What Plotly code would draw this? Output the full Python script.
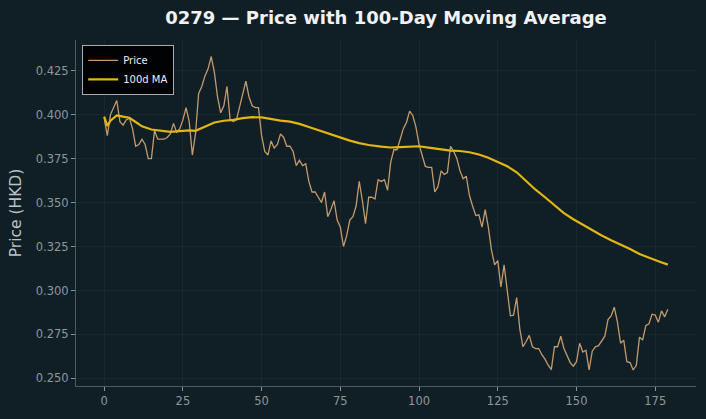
import plotly.graph_objects as go

days = list(range(180))
price = [
    0.398, 0.388, 0.400, 0.404, 0.408, 0.396, 0.394, 0.397, 0.398, 0.392,
    0.382, 0.383, 0.386, 0.383, 0.375, 0.375, 0.391, 0.386, 0.386, 0.386,
    0.387, 0.389, 0.395, 0.390, 0.392, 0.397, 0.404, 0.396, 0.377, 0.389,
    0.412, 0.416, 0.422, 0.426, 0.433, 0.424, 0.410, 0.401, 0.405, 0.416,
    0.397, 0.396, 0.397, 0.404, 0.412, 0.419, 0.410, 0.405, 0.404, 0.404,
    0.388, 0.379, 0.377, 0.385, 0.381, 0.383, 0.389, 0.387, 0.382, 0.382,
    0.379, 0.371, 0.374, 0.371, 0.372, 0.362, 0.356, 0.356, 0.353, 0.350,
    0.356, 0.342, 0.346, 0.351, 0.340, 0.336, 0.325, 0.331, 0.340, 0.342,
    0.348, 0.362, 0.351, 0.338, 0.353, 0.353, 0.352, 0.363, 0.362, 0.363,
    0.357, 0.373, 0.380, 0.380, 0.386, 0.392, 0.3955, 0.402, 0.3995, 0.393,
    0.383, 0.377, 0.3705, 0.370, 0.370, 0.356, 0.359, 0.368, 0.366, 0.367,
    0.382, 0.379, 0.375, 0.368, 0.3635, 0.365, 0.354, 0.348, 0.3426, 0.343,
    0.336, 0.346, 0.336, 0.323, 0.3146, 0.317, 0.302, 0.3146, 0.301, 0.2856,
    0.286, 0.296, 0.278, 0.268, 0.271, 0.2745, 0.268, 0.267, 0.267, 0.2635,
    0.261, 0.2575, 0.255, 0.268, 0.268, 0.274, 0.267, 0.263, 0.259, 0.257,
    0.2595, 0.270, 0.265, 0.266, 0.2548, 0.2655, 0.268, 0.2686, 0.271, 0.274,
    0.2835, 0.2855, 0.2905, 0.282, 0.270, 0.2718, 0.2595, 0.259, 0.2548, 0.2575,
    0.2735, 0.2718, 0.280, 0.281, 0.2865, 0.286, 0.282, 0.2884, 0.285, 0.2894,
]

ma_days = [0, 1, 2, 4, 6, 8, 10, 12, 15, 18, 21, 24, 27, 29, 32, 35, 38, 41, 44, 47,
           50, 53, 56, 59, 62, 65, 68, 71, 75, 78, 81, 84, 88, 91, 94, 97, 100, 103,
           107, 110, 113, 116, 119, 122, 125, 128, 131, 134, 137, 140, 143, 146, 149,
           152, 155, 158, 161, 164, 167, 170, 173, 176, 179]
ma_100 = [0.3988, 0.3936, 0.3965, 0.3995, 0.3988, 0.3982, 0.3958, 0.3933, 0.3915, 0.3907,
          0.3902, 0.3906, 0.3910, 0.3908, 0.3932, 0.3955, 0.3965, 0.3970, 0.3980, 0.3985,
          0.3984, 0.3974, 0.3966, 0.3960, 0.3947, 0.3929, 0.3911, 0.3894, 0.3870, 0.3852,
          0.3838, 0.3827, 0.3818, 0.3813, 0.3815, 0.3818, 0.3820, 0.3812, 0.3802, 0.3795,
          0.3793, 0.3786, 0.3773, 0.3755, 0.3730, 0.3706, 0.3672, 0.3622, 0.3573, 0.3530,
          0.3485, 0.3440, 0.3405, 0.3373, 0.3342, 0.3313, 0.3286, 0.3262, 0.3236, 0.3207,
          0.3185, 0.3166, 0.3147]

x_ticks = [0, 25, 50, 75, 100, 125, 150, 175]
y_ticks = [0.250, 0.275, 0.300, 0.325, 0.350, 0.375, 0.400, 0.425]

BG = "#101f26"
FONT = "DejaVu Sans"

fig = go.Figure()
fig.add_trace(go.Scatter(x=days, y=price, mode="lines", name="Price",
                         line=dict(color="#c49a6c", width=1.3)))
fig.add_trace(go.Scatter(x=ma_days, y=ma_100, mode="lines", name="100d MA",
                         line=dict(color="#e2b613", width=2.2)))

axis_common = dict(showgrid=True, gridcolor="rgba(255,255,255,0.04)", gridwidth=1,
                   zeroline=False, showline=True, linecolor="#4f5a60", linewidth=1,
                   ticks="outside", ticklen=4, tickcolor="#8a9094", tickwidth=1,
                   tickfont=dict(family=FONT, size=11.5, color="#8f969a"), mirror=False)

fig.update_layout(
    width=706, height=419,
    paper_bgcolor=BG, plot_bgcolor=BG,
    margin=dict(l=76, r=10, t=40, b=33),
    title=dict(text="<b>0279 — Price with 100-Day Moving Average</b>",
               x=386 / 706, xanchor="center", y=1 - 18 / 419, yanchor="middle",
               font=dict(family=FONT, size=18, color="#f2f2f2")),
    showlegend=True,
    legend=dict(x=0.01, y=0.986, xanchor="left", yanchor="top",
                bgcolor="rgba(0,0,0,0.92)", bordercolor="#a8acae", borderwidth=1,
                font=dict(family=FONT, size=10, color="#f0f0f0"),
                tracegroupgap=0, itemwidth=30),
    xaxis=dict(range=[-8.95, 187.95], tickvals=x_ticks, **axis_common),
    yaxis=dict(range=[0.2457, 0.4424], tickvals=y_ticks, tickformat=".3f",
               title=dict(text="Price (HKD)", font=dict(family=FONT, size=15.5, color="#bcc2c5"),
                          standoff=10),
               **axis_common),
)

fig.write_html("out.html")
